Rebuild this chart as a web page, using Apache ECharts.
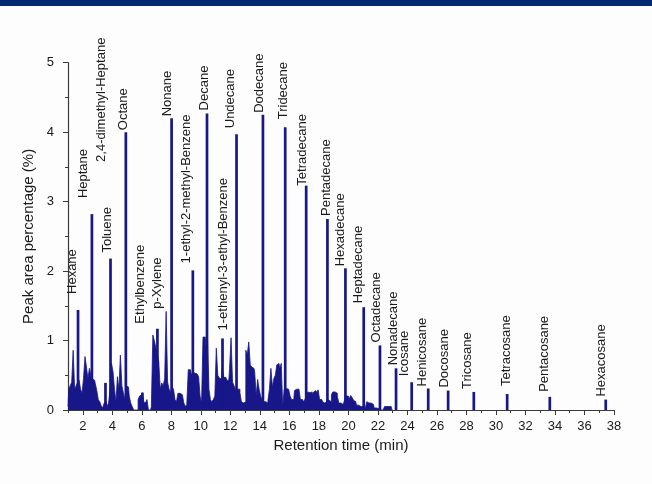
<!DOCTYPE html>
<html>
<head>
<meta charset="utf-8">
<script src="https://cdn.jsdelivr.net/npm/echarts@6/dist/echarts.min.js"></script>
<style>
  html, body { margin: 0; padding: 0; background: #fdfdfd; }
  #wrap { position: relative; width: 652px; height: 484px; overflow: hidden; background: #fdfdfd; }
  #band { position: absolute; left: 0; top: 0; width: 652px; height: 6px; background: #022a74; z-index: 2; }
  #chart { position: absolute; left: 0; top: 0; width: 652px; height: 484px; }
</style>
</head>
<body>
<div id="wrap">
  <div id="chart"></div>
  <div id="band"></div>
</div>
<script>
// Unresolved background signal, sampled every 0.1 min from 1.0 min
const profileStart = 1.0;
const profileStep = 0.1;
const profileValues = [
  0.05, 0.30, 0.35, 0.40, 0.86, 0.30, 0.35, 0.40, 0.43, 0.30,   // 1.0 - 1.9
  0.24, 0.45, 0.77, 0.62, 0.45, 0.60, 0.50, 0.45, 0.43, 0.38,   // 2.0 - 2.9
  0.28, 0.15, 0.12, 0.06, 0.03, 0.10, 0.12, 0.05, 0.10, 0.30,   // 3.0 - 3.9
  0.67, 0.55, 0.30, 0.12, 0.48, 0.30, 0.79, 0.35, 0.25, 0.15,   // 4.0 - 4.9
  0.35, 0.33, 0.20, 0.10, 0.05, 0.00, 0.00, 0.00, 0.15, 0.20,   // 5.0 - 5.9
  0.22, 0.25, 0.10, 0.12, 0.15, 0.00, 0.00, 0.05, 1.08, 1.00,   // 6.0 - 6.9
  0.90, 0.80, 0.70, 0.30, 0.39, 0.35, 0.45, 1.42, 0.40, 0.30,   // 7.0 - 7.9
  0.25, 0.33, 0.30, 0.15, 0.12, 0.24, 0.24, 0.22, 0.24, 0.10,   // 8.0 - 8.9
  0.05, 0.08, 0.58, 0.58, 0.50, 0.55, 0.53, 0.52, 0.50, 0.48,   // 9.0 - 9.9
  0.20, 0.10, 1.05, 1.05, 0.90, 1.05, 0.30, 0.15, 0.12, 0.15,   // 10.0 - 10.9
  0.20, 0.89, 0.50, 0.46, 0.45, 0.60, 0.47, 0.47, 0.43, 0.43,   // 11.0 - 11.9
  0.60, 1.04, 0.40, 0.35, 0.30, 0.30, 0.30, 0.25, 0.12, 0.10,   // 12.0 - 12.9
  0.12, 0.86, 0.80, 0.98, 0.65, 0.62, 0.60, 0.55, 0.20, 0.44,   // 13.0 - 13.9
  0.30, 0.20, 0.15, 0.12, 0.12, 0.10, 0.14, 0.30, 0.60, 0.33,   // 14.0 - 14.9
  0.45, 0.50, 0.65, 0.67, 0.60, 0.67, 0.05, 0.30, 0.31, 0.30,   // 15.0 - 15.9
  0.28, 0.20, 0.15, 0.15, 0.28, 0.30, 0.30, 0.28, 0.15, 0.15,   // 16.0 - 16.9
  0.12, 0.15, 0.20, 0.26, 0.25, 0.26, 0.22, 0.26, 0.28, 0.25,   // 17.0 - 17.9
  0.29, 0.15, 0.15, 0.12, 0.10, 0.12, 0.15, 0.14, 0.12, 0.22,   // 18.0 - 18.9
  0.26, 0.26, 0.24, 0.20, 0.10, 0.10, 0.08, 0.10, 0.15, 0.20,   // 19.0 - 19.9
  0.20, 0.15, 0.21, 0.18, 0.14, 0.12, 0.07, 0.07, 0.05, 0.07,   // 20.0 - 20.9
  0.05, 0.03, 0.03, 0.12, 0.10, 0.10, 0.10, 0.08, 0.03, 0.03,   // 21.0 - 21.9
  0.02, 0.02, 0.00, 0.00, 0.00, 0.05, 0.05, 0.05, 0.04, 0.05,   // 22.0 - 22.9
  0.00                                                         // 23.0
];

// Identified compounds
const peakNames = [
  'Hexane', 'Heptane', '2,4-dimethyl-Heptane', 'Toluene', 'Octane',
  'Ethylbenzene', 'p-Xylene', 'Nonane', '1-ethyl-2-methyl-Benzene', 'Decane',
  '1-ethenyl-3-ethyl-Benzene', 'Undecane', 'Dodecane', 'Tridecane', 'Tetradecane',
  'Pentadecane', 'Hexadecane', 'Heptadecane', 'Octadecane', 'Nonadecane',
  'Icosane', 'Henicosane', 'Docosane', 'Tricosane', 'Tetracosane',
  'Pentacosane', 'Hexacosane'
];
const peakTimes = [
  1.68, 2.62, 3.54, 3.88, 4.92,
  6.04, 7.06, 8.02, 9.46, 10.42,
  11.47, 12.42, 14.21, 15.72, 17.14,
  18.58, 19.80, 21.04, 22.14, 23.23,
  24.29, 25.41, 26.76, 28.50, 30.76,
  33.65, 37.44
];
const peakValues = [
  1.44, 2.82, 0.39, 2.18, 4.00,
  0.25, 1.17, 4.20, 2.01, 4.27,
  1.03, 3.97, 4.25, 4.07, 3.23,
  2.75, 2.04, 1.48, 0.93, 0.60,
  0.40, 0.31, 0.28, 0.26, 0.23,
  0.19, 0.15
];

// Axis ticks
const xMajorTicks = [2, 4, 6, 8, 10, 12, 14, 16, 18, 20, 22, 24, 26, 28, 30, 32, 34, 36, 38];
const xMinorTicks = [1, 3, 5, 7, 9, 11, 13, 15, 17, 19, 21, 23, 25, 27, 29, 31, 33, 35, 37];

// Screen shift of each compound label from its peak top: [right, down] in px
const labelShift = [
  [-6, -16], [-8, -16], [-4, -221], [-3, -6], [-2, -2],
  [-2, -69], [0, -20], [-4, -2], [-6, -7], [-3, -3],
  [1, -8], [-6, -6], [-4, -2], [-2, -8], [-4, 0],
  [-1, -3], [-5, -2], [-5, -4], [-4, -3], [-3, -3],
  [-7, -6], [-6, -2], [-4, -3], [-6, -3], [-1, -8],
  [-5, -5], [-4, -3]
];

const INK = '#17178a';
const AXIS = '#3a3a3a';
const FONT = "'Liberation Sans', Arial, sans-serif";

const profileData = profileValues.map((v, i) => [+(profileStart + i * profileStep).toFixed(2), v]);
const peakData = peakTimes.map((t, i) => ({ value: [t, peakValues[i]], name: peakNames[i] }));

const chart = echarts.init(document.getElementById('chart'), null, { renderer: 'canvas' });

chart.setOption({
  animation: false,
  backgroundColor: 'transparent',
  textStyle: { fontFamily: FONT },
  grid: { left: 68, right: 38, top: 62.7, bottom: 74, containLabel: false },
  xAxis: [
    {
      type: 'value',
      min: 1,
      max: 38,
      name: 'Retention time (min)',
      nameLocation: 'middle',
      nameGap: 24,
      nameTextStyle: { fontSize: 15, color: '#1a1a1a', fontFamily: FONT },
      axisLine: { show: true, onZero: false, lineStyle: { color: AXIS, width: 1.2 } },
      axisTick: { show: true, inside: false, length: 5, customValues: xMajorTicks, lineStyle: { color: AXIS, width: 1 } },
      axisLabel: { show: true, customValues: xMajorTicks, fontSize: 13, margin: 10, color: '#1a1a1a', fontFamily: FONT },
      splitLine: { show: false }
    },
    {
      type: 'value',
      min: 1,
      max: 38,
      position: 'bottom',
      axisLine: { show: false },
      axisTick: { show: true, inside: false, length: 3, customValues: xMinorTicks, lineStyle: { color: AXIS, width: 1 } },
      axisLabel: { show: false },
      splitLine: { show: false }
    }
  ],
  yAxis: {
    type: 'value',
    min: 0,
    max: 5,
    interval: 1,
    name: 'Peak area percentage (%)',
    nameLocation: 'middle',
    nameGap: 32,
    nameTextStyle: { fontSize: 15, color: '#1a1a1a', fontFamily: FONT },
    axisLine: { show: true, onZero: false, lineStyle: { color: AXIS, width: 1.2 } },
    axisTick: { show: true, inside: false, length: 5, lineStyle: { color: AXIS, width: 1 } },
    minorTick: { show: true, splitNumber: 2, length: 3, lineStyle: { color: AXIS, width: 1 } },
    axisLabel: { fontSize: 13, margin: 14, color: '#1a1a1a', fontFamily: FONT },
    splitLine: { show: false },
    minorSplitLine: { show: false }
  },
  series: [
    {
      name: 'background',
      type: 'line',
      xAxisIndex: 0,
      step: 'middle',
      symbol: 'none',
      silent: true,
      data: profileData,
      lineStyle: { color: INK, width: 0.8 },
      areaStyle: { color: INK, opacity: 1 },
      z: 2
    },
    {
      name: 'compounds',
      type: 'bar',
      xAxisIndex: 0,
      barWidth: 2.7,
      silent: true,
      data: peakData,
      itemStyle: { color: INK },
      label: {
        show: true,
        position: 'top',
        distance: 0,
        rotate: 90,
        align: 'left',
        verticalAlign: 'middle',
        formatter: '{b}',
        fontSize: 13,
        color: '#1a1a1a',
        fontFamily: FONT
      },
      // Place each name just above (and slightly left of) its peak top
      labelLayout: function (params) {
        const s = labelShift[params.dataIndex];
        return {
          x: params.rect.x + params.rect.width / 2 + s[0],
          y: params.rect.y + s[1],
          align: 'left',
          verticalAlign: 'middle',
          rotate: 90,
          hideOverlap: false
        };
      },
      z: 3
    }
  ]
});
</script>
</body>
</html>
